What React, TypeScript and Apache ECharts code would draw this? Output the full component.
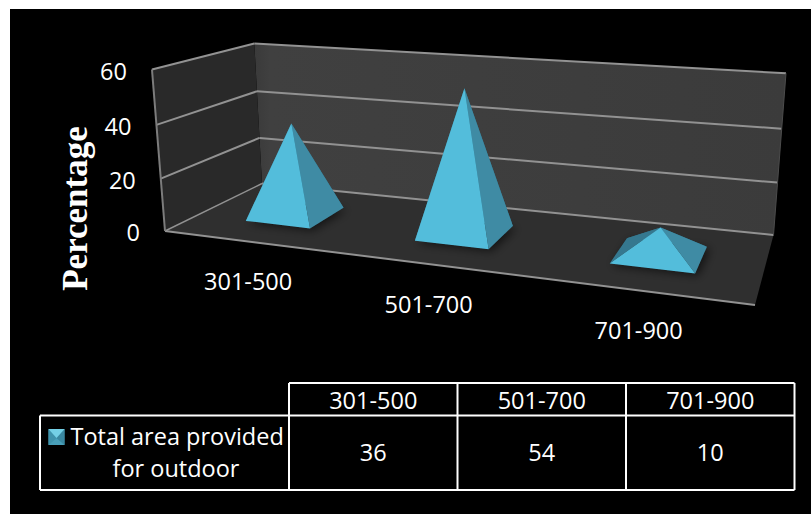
import React, { useEffect, useRef } from "react";
import * as echarts from "echarts";

// Chart data
const categories = ["301-500", "501-700", "701-900"];
const outdoorArea = [36, 54, 10];
const valueTicks = [0, 20, 40, 60];
const seriesName = ["Total area provided", "for outdoor"];
const axisTitle = "Percentage";

// Layout of the oblique box, in pixels
const GRID = { left: 165, top: 72, width: 590, height: 160 };
type P = [number, number];
const FLOOR: P[] = [[165, 231], [755, 305], [773.5, 235], [262, 183.5]];
const VERTICAL_VANISH: P = [476, 4086];
const RISE_LEFT = 0.0402;
const RISE_RIGHT = 0.0386;
const BASE_HALF = 0.066;
const BASE_NEAR = 0.3;
const BASE_FAR = 0.7;
const BASE_SHIFT = 0.004;

const FONT = "'Open Sans'";
const TEXT_SIZE = 23.5;

// Homogeneous perspective map of the unit square on the floor quadrilateral
function floorMap(q: P[]) {
  const [[x0, y0], [x1, y1], [x2, y2], [x3, y3]] = q;
  const dx1 = x1 - x2, dx2 = x3 - x2, sx = x0 - x1 + x2 - x3;
  const dy1 = y1 - y2, dy2 = y3 - y2, sy = y0 - y1 + y2 - y3;
  const det = dx1 * dy2 - dx2 * dy1;
  const g = (sx * dy2 - dx2 * sy) / det;
  const h = (dx1 * sy - sx * dy1) / det;
  const a = x1 - x0 + g * x1, b = x3 - x0 + h * x3;
  const d = y1 - y0 + g * y1, e = y3 - y0 + h * y3;
  return (u: number, v: number) => ({
    x: a * u + b * v + x0,
    y: d * u + e * v + y0,
    w: g * u + h * v + 1,
  });
}
const floorAt = floorMap(FLOOR);

// u: along the categories, t: fraction of the value axis, v: depth into the box
function project(u: number, t: number, v: number): P {
  const f = floorAt(u, v);
  const k = -(RISE_LEFT + (RISE_RIGHT - RISE_LEFT) * u) * t;
  const w = f.w + k;
  return [(f.x + k * VERTICAL_VANISH[0]) / w, (f.y + k * VERTICAL_VANISH[1]) / w];
}
const toU = (px: number) => (px - GRID.left) / GRID.width;
const toT = (py: number) => (GRID.top + GRID.height - py) / GRID.height;

const poly = (points: P[], style: any) => ({
  type: "polygon",
  shape: { points },
  style,
});
const seg = (a: P, b: P, stroke: string, lineWidth: number) => ({
  type: "line",
  shape: { x1: a[0], y1: a[1], x2: b[0], y2: b[1] },
  style: { stroke, lineWidth },
});

function renderPanels(_: any, api: any) {
  const t0 = toT(api.coord([0, 0])[1]);
  const t1 = toT(api.coord([0, 60])[1]);
  return {
    type: "group",
    children: [
      poly(
        [project(0, t0, 1), project(1, t0, 1), project(1, t1, 1), project(0, t1, 1)],
        {
          fill: new echarts.graphic.LinearGradient(0, 0, 1, 0, [
            { offset: 0, color: "#3a3a3a" },
            { offset: 0.03, color: "#404040" },
            { offset: 1, color: "#3b3b3b" },
          ]),
        }
      ),
      poly(
        [project(0, t0, 0), project(0, t0, 1), project(0, t1, 1), project(0, t1, 0)],
        { fill: "#292929" }
      ),
      poly(
        [project(0, t0, 0), project(1, t0, 0), project(1, t0, 1), project(0, t0, 1)],
        { fill: "#2f2f2f" }
      ),
    ],
  };
}

function renderGridLine(_: any, api: any) {
  const t = toT(api.coord([0, api.value(0)])[1]);
  const line = "#929292";
  return {
    type: "group",
    children: [
      seg(project(0, t, 0), project(0, t, 1), line, t === 0 ? 1.4 : 2),
      seg(project(0, t, 1), project(1, t, 1), line, 2),
    ],
  };
}

function renderFrontEdges(_: any, api: any) {
  const t1 = toT(api.coord([0, 60])[1]);
  return {
    type: "group",
    children: [
      seg(project(0, 0, 0), project(1, 0, 0), "#929292", 2),
      seg(project(0, 0, 0), project(0, t1, 0), "#7c7c7c", 2),
      seg(project(1, 0, 1), project(1, t1, 1), "#4c4c4c", 1),
    ],
  };
}

function renderPyramid(_: any, api: any) {
  const top = api.coord([api.value(0), api.value(1)]);
  const u = toU(top[0]) + BASE_SHIFT;
  const t = toT(top[1]);
  const vMid = (BASE_NEAR + BASE_FAR) / 2;
  const apex = project(u, t, vMid);
  const fl = project(u - BASE_HALF, 0, BASE_NEAR);
  const fr = project(u + BASE_HALF, 0, BASE_NEAR);
  const br = project(u + BASE_HALF, 0, BASE_FAR);
  const bl = project(u - BASE_HALF, 0, BASE_FAR);
  return {
    type: "group",
    children: [
      poly([fl, fr, br, bl], {
        fill: "#1d1d1d",
        shadowBlur: 10,
        shadowColor: "rgba(0,0,0,0.6)",
        shadowOffsetX: 3,
        shadowOffsetY: 2,
      }),
      poly([bl, br, apex], { fill: "#2f6f85" }),
      poly([fl, bl, apex], { fill: "#35788f" }),
      poly([fr, br, apex], { fill: "#3f8ba4" }),
      poly([fl, fr, apex], { fill: "#53bddb" }),
    ],
  };
}

function renderValueLabel(_: any, api: any) {
  const v = api.value(0);
  const [x, y] = project(0, toT(api.coord([0, v])[1]), 0);
  return {
    type: "text",
    x: x - 25,
    y: y + 1,
    style: {
      text: String(v),
      fill: "#ffffff",
      font: `${TEXT_SIZE}px ${FONT}`,
      align: "right",
      verticalAlign: "middle",
    },
  };
}

function renderCategoryLabel(_: any, api: any) {
  const i = api.value(0);
  const [x, y] = project(toU(api.coord([i, 0])[0]), 0, 0);
  return {
    type: "text",
    x: x + 2,
    y: y + 40,
    style: {
      text: categories[i],
      fill: "#ffffff",
      font: `${TEXT_SIZE}px ${FONT}`,
      align: "center",
      verticalAlign: "middle",
    },
  };
}

// Data table under the plot
function tableGraphics() {
  const white = { stroke: "#ffffff", lineWidth: 2 };
  const xs = [289, 457.5, 626, 794.5];
  const rowTop = 383;
  const rowMid = 415.5;
  const rowEnd = 490;
  const left = 40;
  const rule = (x1: number, y1: number, x2: number, y2: number) => ({
    type: "line",
    shape: { x1, y1, x2, y2 },
    style: white,
  });
  const cell = (text: string, x: number, y: number, align = "center") => ({
    type: "text",
    x,
    y,
    style: {
      text,
      fill: "#ffffff",
      font: `${TEXT_SIZE}px ${FONT}`,
      align,
      verticalAlign: "middle",
    },
  });
  const items: any[] = [
    rule(xs[0], rowTop, xs[3], rowTop),
    rule(left, rowMid, xs[3], rowMid),
    rule(left, rowEnd, xs[3], rowEnd),
    rule(left, rowMid, left, rowEnd),
    ...xs.map((x) => rule(x, rowTop, x, rowEnd)),
  ];
  categories.forEach((c, i) => {
    const cx = (xs[i] + xs[i + 1]) / 2;
    items.push(cell(c, cx, 400));
    items.push(cell(String(outdoorArea[i]), cx, 452));
  });
  items.push(cell(seriesName[0], 70.5, 436, "left"));
  items.push(cell(seriesName[1], 176, 468));
  // Legend key: bevelled pyramid seen from above
  const k = { l: 48.5, r: 64.5, t: 429, b: 445 };
  const mid: P = [(k.l + k.r) / 2, (k.t + k.b) / 2 + 1];
  const keyShape = (points: number[][], fill: string) => ({
    type: "polygon",
    shape: { points },
    style: { fill },
  });
  items.push(keyShape([[k.l, k.t], [k.r, k.t], [k.r, k.b], [k.l, k.b]], "#4296ae"));
  items.push(keyShape([[k.l, k.b], [k.r, k.b], mid], "#489fb9"));
  items.push(keyShape([[k.l, k.t], [k.l, k.b], mid], "#3f93ac"));
  items.push(keyShape([[k.r, k.t], [k.r, k.b], mid], "#3a88a1"));
  items.push(keyShape([[k.l, k.t], [k.r, k.t], mid], "#74d0e6"));
  return items;
}

export default function App() {
  const ref = useRef<HTMLDivElement>(null);
  useEffect(() => {
    const chart = echarts.init(ref.current!, undefined, { renderer: "svg" });
    const custom = (renderItem: any, data: any[], dims: number[] = [0]) => ({
      type: "custom",
      coordinateSystem: "cartesian2d",
      renderItem,
      data,
      encode: { x: dims[0], y: dims[dims.length - 1] },
      silent: true,
      clip: false,
    });
    chart.setOption({
      animation: false,
      backgroundColor: "transparent",
      grid: { ...GRID },
      xAxis: { type: "category", data: categories, show: false },
      yAxis: { type: "value", min: 0, max: 60, interval: 20, show: false },
      graphic: [
        {
          type: "text",
          x: 75.5,
          y: 208.5,
          rotation: Math.PI / 2,
          style: {
            text: axisTitle,
            fill: "#ffffff",
            font: "bold 35px 'Liberation Serif'",
            align: "center",
            verticalAlign: "middle",
          },
        },
        ...tableGraphics(),
      ],
      series: [
        custom(renderPanels, [[0, 0]], [0, 1]),
        custom(renderGridLine, valueTicks.map((v) => [v])),
        custom(renderFrontEdges, [[0, 0]], [0, 1]),
        custom(
          renderPyramid,
          categories.map((_, i) => [i, outdoorArea[i]]),
          [0, 1]
        ),
        custom(renderValueLabel, valueTicks.map((v) => [v])),
        custom(renderCategoryLabel, categories.map((_, i) => [i])),
      ],
    });
    return () => chart.dispose();
  }, []);
  return (
    <div style={{ position: "fixed", left: 0, top: 0, width: 811, height: 514, background: "#ffffff" }}>
      <div style={{ position: "absolute", left: 10, top: 9, right: 0, bottom: 0, background: "#000000" }} />
      <div ref={ref} style={{ position: "absolute", left: 0, top: 0, width: 811, height: 514 }} />
    </div>
  );
}
